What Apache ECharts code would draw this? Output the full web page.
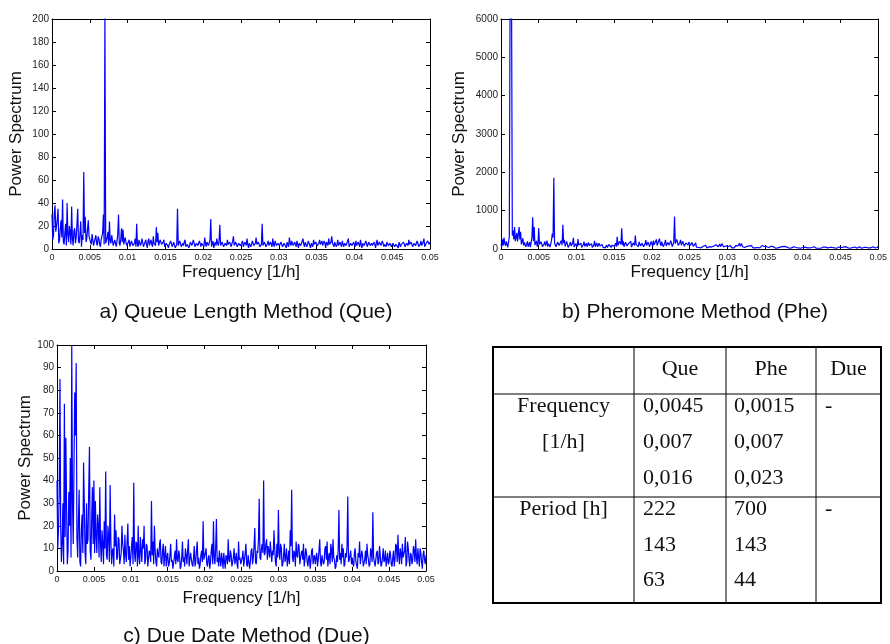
<!DOCTYPE html>
<html>
<head>
<meta charset="utf-8">
<script src="https://cdn.jsdelivr.net/npm/echarts@6/dist/echarts.min.js"></script>
<style>
  html, body { margin: 0; padding: 0; background: #fff; }
  #main { width: 890px; height: 644px; }
</style>
</head>
<body>
<div id="main"></div>
<script>
// frequency grid of the spectra, 0 .. 0.05 1/h (one row = 0.005)
var freqStep = 0.0001;

// a) Queue Length Method (Que)
var queSpectrum = [
  30,8, 12,31, 38,15, 20,26, 35,5, 8,18, 25,10, 43,6, 4,14, 22,3, 40,12, 6,20, 15,4, 37,9, 3,16, 18,5, 10,21, 35,7, 5,13, 24,2, 12,8, 67,14, 28,6, 9,17, 25,11,
  10,6, 4,13, 14,3, 6,9, 12,5, 3,11, 9,4, 2,8, 11,14, 30,4, 205,5, 6,10, 15,3, 24,7, 5,12, 12,3, 4,8, 9,2, 7,13, 30,5, 3,9, 18,6, 17,4, 8,10, 5,3,
  3,6, 8,2, 1,7, 6,3, 4,5, 9,2, 22,4, 2,8, 7,3, 5,9, 10,2, 3,6, 8,4, 1,7, 9,3, 6,8, 4,2, 11,5, 5,3, 19,6, 14,3, 2,8, 7,4, 4,6, 8,2,
  2,5, 6,3, 1,4, 4,7, 7,2, 3,6, 5,1, 2,4, 35,3, 4,7, 6,2, 1,5, 3,6, 8,2, 2,4, 5,1, 3,6, 7,3, 4,8, 9,2, 2,5, 6,3, 3,7, 8,2, 5,4,
  4,2, 10,5, 2,6, 7,3, 3,8, 26,2, 5,7, 1,4, 6,3, 9,5, 3,7, 21,3, 4,6, 7,2, 2,5, 5,3, 8,4, 3,6, 6,2, 2,7, 11,3, 4,6, 7,2, 3,5, 5,3,
  3,5, 7,2, 2,6, 5,3, 9,4, 1,5, 6,2, 4,7, 8,3, 2,5, 10,4, 3,6, 5,2, 1,4, 22,3, 4,6, 6,2, 2,5, 7,3, 3,6, 5,2, 9,4, 2,7, 6,3, 4,5,
  5,3, 2,6, 7,2, 3,5, 6,4, 1,6, 4,2, 10,5, 3,7, 8,3, 2,6, 5,2, 7,4, 1,5, 6,3, 3,7, 9,4, 2,6, 5,2, 4,7, 7,3, 1,5, 6,2, 8,4, 3,6,
  6,3, 2,5, 8,4, 4,7, 3,2, 7,5, 1,6, 5,3, 9,4, 3,6, 11,5, 4,2, 6,7, 2,4, 8,3, 3,6, 5,2, 7,4, 2,5, 6,3, 4,7, 9,2, 3,5, 5,3, 2,6,
  4,2, 7,3, 2,6, 5,2, 8,4, 1,5, 6,3, 3,7, 5,2, 2,6, 7,3, 4,5, 3,2, 6,4, 1,5, 8,3, 2,6, 5,3, 3,7, 7,2, 4,5, 2,6, 6,3, 3,5, 5,2,
  3,5, 6,2, 2,4, 5,3, 1,6, 7,2, 4,5, 3,6, 6,2, 2,5, 5,3, 8,4, 3,6, 4,2, 2,5, 6,3, 3,7, 5,2, 1,4, 7,3, 4,6, 9,2, 3,5, 5,7, 8,4, 6
];

// b) Pheromone Method (Phe)
var pheSpectrum = [
  120,60, 250,90, 300,150, 80,200, 160,40, 60,320, 6300,6400, 6500,350, 480,250, 570,200, 300,420, 200,150, 570,250, 450,120, 150,280, 90,170, 220,60, 120,200, 60,110, 180,50, 90,300, 825,200, 570,100, 140,210, 60,130,
  550,120, 80,190, 150,60, 40,130, 200,80, 110,220, 60,140, 180,50, 90,230, 400,300, 1860,150, 120,60, 50,180, 170,90, 80,140, 220,100, 630,160, 240,70, 90,200, 150,40, 60,120, 180,80, 100,160, 290,50, 70,140,
  120,60, 260,100, 80,140, 150,40, 40,110, 190,70, 100,150, 60,30, 170,90, 80,130, 140,40, 50,100, 210,60, 90,160, 60,30, 150,80, 40,110, 120,50, 70,90, 30,60, 100,40, 60,120, 140,70, 40,100, 90,50,
  70,120, 150,60, 320,90, 100,200, 180,120, 540,100, 200,60, 90,180, 160,80, 60,140, 120,90, 200,50, 80,160, 150,90, 350,120, 110,70, 60,190, 220,80, 90,150, 170,60, 60,140, 230,90, 100,180, 140,60, 80,200,
  130,70, 220,110, 70,160, 250,90, 120,60, 270,140, 80,190, 180,60, 100,150, 240,80, 60,170, 150,100, 90,220, 200,60, 110,180, 850,140, 130,250, 220,90, 90,170, 240,100, 120,200, 180,70, 70,160, 210,110, 100,180,
  230,90, 120,170, 200,70, 90,120, 160,50, 60,90, 40,70, 80,30, 30,60, 70,40, 50,100, 90,30, 40,70, 60,40, 100,50, 30,90, 80,40, 50,110, 140,70, 60,100, 130,60, 90,140, 150,50, 40,90, 80,60,
  120,60, 50,100, 90,40, 30,80, 70,30, 60,90, 40,60, 80,130, 150,70, 110,140, 60,50, 90,40, 30,70, 70,40, 50,80, 40,30, 90,50, 30,70, 60,30, 80,50, 40,90, 70,30, 30,60, 90,40, 50,70,
  30,50, 60,20, 20,40, 50,30, 70,40, 30,60, 40,20, 20,50, 60,30, 30,40, 50,20, 20,60, 40,30, 70,40, 30,50, 50,20, 20,40, 40,30, 30,50, 60,20, 20,40, 50,30, 30,60, 40,20, 60,30,
  40,30, 20,50, 50,20, 30,40, 60,30, 20,50, 40,20, 30,60, 50,30, 20,40, 30,20, 60,40, 20,30, 40,50, 30,20, 50,40, 20,30, 30,50, 40,20, 20,40, 60,30, 30,50, 40,20, 20,40, 50,30,
  30,40, 20,30, 50,20, 40,60, 20,30, 30,50, 60,20, 20,40, 40,30, 30,50, 50,20, 20,40, 30,60, 40,20, 20,30, 60,40, 30,20, 40,50, 20,30, 50,40, 30,20, 40,60, 60,30, 30,50, 70,40, 80
];

// c) Due Date Method (Due)
var dueSpectrum = [
  40,10, 18,35, 85,20, 4,12, 30,3, 74,15, 59,28, 3,9, 35,20, 50,6, 100,30, 12,45, 79,60, 92,15, 6,22, 36,4, 2,18, 25,8, 48,30, 8,3, 30,12, 14,36, 55,9, 5,24, 37,12,
  40,8, 31,15, 8,25, 20,6, 37,12, 4,18, 12,3, 22,10, 44,7, 5,20, 15,4, 38,13, 3,9, 10,2, 25,11, 18,5, 6,15, 14,3, 3,8, 20,12, 9,3, 16,7, 4,13, 21,5, 11,2,
  6,11, 15,3, 39,8, 4,13, 12,2, 20,6, 3,15, 9,4, 14,10, 20,3, 5,12, 11,2, 2,9, 8,4, 31,7, 13,3, 20,9, 4,2, 10,7, 6,12, 14,4, 3,9, 12,2, 7,11, 2,6,
  8,2, 3,7, 12,4, 5,1, 1,6, 9,3, 14,5, 4,9, 7,1, 2,6, 13,4, 6,2, 10,7, 3,9, 14,2, 5,8, 8,3, 2,6, 11,2, 4,9, 13,3, 6,1, 3,7, 9,4, 22,5,
  5,8, 10,3, 2,6, 7,1, 4,9, 12,3, 22,6, 3,10, 23,4, 6,2, 9,5, 2,8, 5,1, 8,4, 1,7, 6,3, 14,5, 4,9, 7,2, 2,6, 10,3, 5,8, 3,1, 13,5, 6,3,
  3,6, 9,2, 5,8, 12,3, 2,7, 7,1, 4,9, 10,3, 6,11, 19,4, 3,9, 8,14, 32,6, 5,10, 12,8, 40,7, 8,12, 14,5, 11,9, 6,13, 13,4, 9,7, 18,10, 4,2, 12,6,
  27,8, 5,12, 10,2, 3,7, 12,4, 6,10, 2,5, 9,3, 18,11, 36,6, 4,9, 8,2, 13,7, 6,12, 11,3, 3,8, 9,5, 12,2, 5,10, 8,4, 2,6, 7,1, 4,9, 10,3, 6,7,
  3,6, 8,2, 5,9, 14,4, 2,7, 7,3, 4,10, 11,5, 13,2, 6,8, 3,12, 9,4, 14,6, 5,1, 2,7, 4,9, 27,5, 8,3, 12,6, 10,2, 3,8, 6,11, 33,4, 5,7, 9,3,
  6,3, 2,8, 10,4, 4,1, 8,6, 13,3, 3,9, 7,2, 2,5, 9,3, 12,7, 5,2, 3,10, 8,4, 26,6, 6,2, 2,8, 9,3, 4,11, 7,2, 3,6, 10,4, 5,9, 2,5, 8,3,
  4,9, 7,3, 2,6, 9,2, 5,12, 11,4, 16,7, 3,10, 8,3, 12,6, 6,9, 15,2, 4,13, 10,5, 2,8, 7,3, 5,11, 9,4, 14,6, 3,10, 6,2, 10,8, 4,1, 7,9, 5,3, 7
];

var panelTitles = ['a) Queue Length Method (Que)', 'b) Pheromone Method (Phe)', 'c) Due Date Method (Due)'];
var yMax = [200, 6000, 100];
var yStep = [20, 1000, 10];

// table
var tableHead = ['', 'Que', 'Phe', 'Due'];
var freqLabel = ['Frequency', '[1/h]'];
var periodLabel = ['Period [h]'];
var queFreq = ['0,0045', '0,007', '0,016'];
var pheFreq = ['0,0015', '0,007', '0,023'];
var dueFreq = ['-'];
var quePeriod = ['222', '143', '63'];
var phePeriod = ['700', '143', '44'];
var duePeriod = ['-'];

var grids = [
  { left: 52, top: 19, width: 378, height: 230 },
  { left: 501, top: 19, width: 378, height: 230 },
  { left: 57, top: 345, width: 369, height: 226 }
];
var yNameGap = [27, 33, 20];
var xNameGap = [15, 15, 19];
var titleTop = [297, 297, 621];

function toPairs(arr) {
  return arr.map(function (v, i) { return [+(i * freqStep).toFixed(4), v]; });
}

var sans = 'Liberation Sans, Arial, sans-serif';
var serif = 'Liberation Serif, Times New Roman, serif';
var lineCol = '#000';

var xAxes = [], yAxes = [], series = [], titles = [];
var spectra = [queSpectrum, pheSpectrum, dueSpectrum];

grids.forEach(function (g, k) {
  var axLine = { show: true, onZero: false, lineStyle: { color: lineCol, width: 1 } };
  var tick = { show: true, inside: true, length: 4, lineStyle: { color: lineCol } };
  xAxes.push({
    gridIndex: k, type: 'value', min: 0, max: 0.05, interval: 0.005, position: 'bottom',
    axisLine: axLine, axisTick: tick, splitLine: { show: false },
    axisLabel: { fontFamily: sans, fontSize: 9, color: '#222', margin: 4,
      formatter: function (v) { return String(+v.toFixed(3)); } },
    name: 'Frequency [1/h]', nameLocation: 'middle', nameGap: xNameGap[k],
    nameTextStyle: { fontFamily: sans, fontSize: 17, color: '#111' }
  });
  xAxes.push({
    gridIndex: k, type: 'value', min: 0, max: 0.05, interval: 0.005, position: 'top',
    axisLine: axLine, axisTick: tick, axisLabel: { show: false }, splitLine: { show: false }
  });
  yAxes.push({
    gridIndex: k, type: 'value', min: 0, max: yMax[k], interval: yStep[k], position: 'left',
    axisLine: axLine, axisTick: tick, splitLine: { show: false },
    axisLabel: { fontFamily: sans, fontSize: 10, color: '#222', margin: 3,
      formatter: function (v) { return String(v); } },
    name: 'Power Spectrum', nameLocation: 'middle', nameGap: yNameGap[k],
    nameTextStyle: { fontFamily: sans, fontSize: 17, color: '#111' }
  });
  yAxes.push({
    gridIndex: k, type: 'value', min: 0, max: yMax[k], interval: yStep[k], position: 'right',
    axisLine: axLine, axisTick: tick, axisLabel: { show: false }, splitLine: { show: false }
  });
  series.push({
    type: 'line', xAxisIndex: 2 * k, yAxisIndex: 2 * k,
    data: toPairs(spectra[k]), showSymbol: false, clip: true,
    lineStyle: { color: '#0000ff', width: 1.2 }, itemStyle: { color: '#0000ff' }
  });
  titles.push({
    text: panelTitles[k], left: g.left + g.width / 2, top: titleTop[k], textAlign: 'center',
    textStyle: { fontFamily: sans, fontSize: 21, fontWeight: 'normal', color: '#111' }
  });
});

// table drawn with graphic elements
var tb = { x0: 493, x1: 881, y0: 347, y1: 603 };
var colX = [634, 726, 816];
var rowY = [394, 497];
var tFont = '22px ' + serif;
var g = [];
g.push({ type: 'rect', shape: { x: tb.x0, y: tb.y0, width: tb.x1 - tb.x0, height: tb.y1 - tb.y0 },
  style: { fill: 'none', stroke: '#000', lineWidth: 2 } });
colX.forEach(function (x) {
  g.push({ type: 'line', shape: { x1: x, y1: tb.y0, x2: x, y2: tb.y1 }, style: { stroke: '#000', lineWidth: 1 } });
});
rowY.forEach(function (y) {
  g.push({ type: 'line', shape: { x1: tb.x0, y1: y, x2: tb.x1, y2: y }, style: { stroke: '#000', lineWidth: 1 } });
});
function txt(s, x, y, align) {
  g.push({ type: 'text', x: x, y: y, style: { text: s, font: tFont, fill: '#111', align: align || 'left', verticalAlign: 'middle' } });
}
var colCenters = [(tb.x0 + colX[0]) / 2, (colX[0] + colX[1]) / 2, (colX[1] + colX[2]) / 2, (colX[2] + tb.x1) / 2];
tableHead.forEach(function (s, i) { if (s) txt(s, colCenters[i], 369, 'center'); });
var freqLines = [406, 442, 478];
var perLines = [509, 545, 580];
freqLabel.forEach(function (s, i) { txt(s, colCenters[0], freqLines[i], 'center'); });
periodLabel.forEach(function (s, i) { txt(s, colCenters[0], perLines[i], 'center'); });
queFreq.forEach(function (s, i) { txt(s, 643, freqLines[i]); });
pheFreq.forEach(function (s, i) { txt(s, 734, freqLines[i]); });
dueFreq.forEach(function (s, i) { txt(s, 825, freqLines[i]); });
quePeriod.forEach(function (s, i) { txt(s, 643, perLines[i]); });
phePeriod.forEach(function (s, i) { txt(s, 734, perLines[i]); });
duePeriod.forEach(function (s, i) { txt(s, 825, perLines[i]); });

var chart = echarts.init(document.getElementById('main'), null, { renderer: 'canvas' });
chart.setOption({
  animation: false,
  backgroundColor: '#fff',
  title: titles,
  grid: grids,
  xAxis: xAxes,
  yAxis: yAxes,
  series: series,
  graphic: g
});
</script>
</body>
</html>
